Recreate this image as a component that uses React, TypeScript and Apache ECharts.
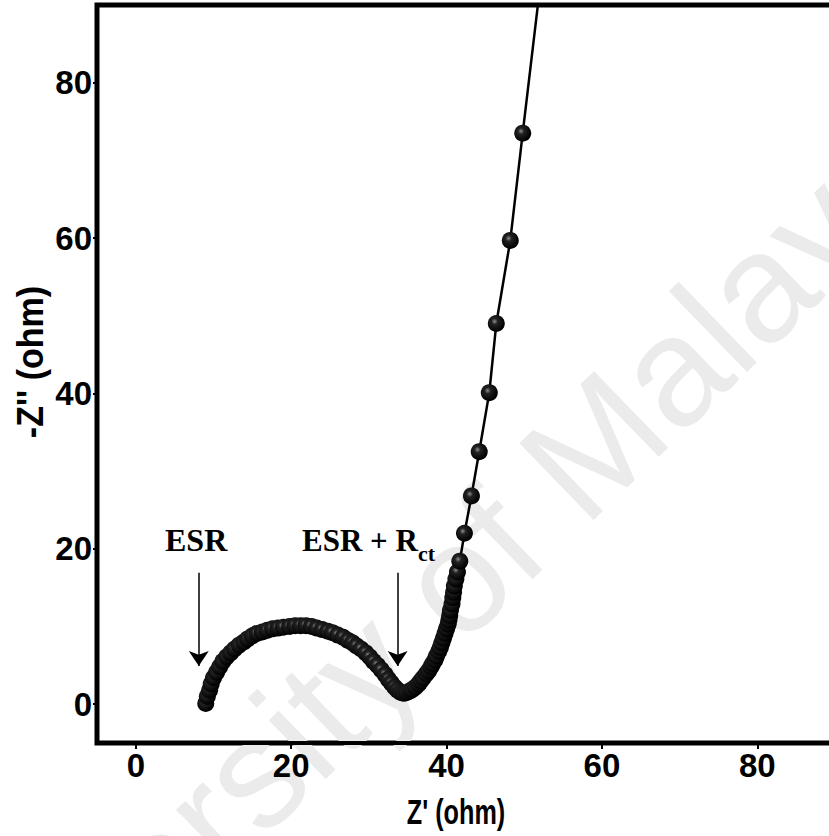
import React, { useEffect, useRef } from "react";
import * as echarts from "echarts";

// Nyquist data: Z' (ohm) and -Z'' (ohm)
const zReal = [
  9.0, 9.2, 9.5, 9.7, 10.0, 10.4, 10.8, 11.2, 11.7, 12.2, 12.7, 13.3, 13.9, 14.4,
  15.0, 15.6, 16.3, 16.9, 17.6, 18.3, 19.0, 19.8, 20.5, 21.2, 21.9, 22.6, 23.3,
  24.0, 24.7, 25.3, 26.0, 26.7, 27.3, 27.9, 28.4, 29.0, 29.6, 30.1, 30.6, 31.1,
  31.6, 32.1, 32.5, 32.9, 33.3, 33.7, 34.1, 34.5, 34.9, 35.3, 35.6, 36.0, 36.4,
  36.7, 37.0, 37.4, 37.7, 38.0, 38.2, 38.5, 38.7, 39.0, 39.2, 39.4, 39.6, 39.8,
  40.0, 40.2, 40.3, 40.4, 40.5, 40.7, 40.8, 40.9, 41.0, 41.2, 41.4, 41.7, 42.3,
  43.2, 44.2, 45.5, 46.4, 48.2, 49.8, 52.7,
];
const zImag = [
  0.1, 1.0, 1.8, 2.6, 3.4, 4.1, 4.8, 5.5, 6.1, 6.6, 7.1, 7.6, 8.0, 8.4, 8.8, 9.1,
  9.3, 9.5, 9.7, 9.8, 9.9, 10.0, 10.1, 10.1, 10.1, 10.0, 9.8, 9.6, 9.4, 9.2, 8.9,
  8.6, 8.2, 7.9, 7.5, 7.1, 6.6, 6.1, 5.5, 5.0, 4.4, 3.8, 3.2, 2.7, 2.2, 1.8, 1.5,
  1.4, 1.5, 1.7, 1.9, 2.2, 2.6, 3.0, 3.4, 3.9, 4.3, 4.8, 5.2, 5.7, 6.2, 6.8, 7.3,
  7.9, 8.5, 9.1, 9.7, 10.3, 10.8, 11.4, 12.1, 12.9, 13.7, 14.4, 15.2, 16.1, 17.0,
  18.4, 22.0, 26.8, 32.5, 40.1, 49.0, 59.7, 73.5, 98.0,
];
const xTicks = [0, 20, 40, 60, 80];
const yTicks = [0, 20, 40, 60, 80];
// arrows: [x, yStart, yEnd]
const esrArrow = [8.1, 16.9, 4.9];
const rctArrow = [33.7, 16.9, 4.9];

const sans = "'Liberation Sans', Arial, sans-serif";
const serif = "'Liberation Serif', 'Times New Roman', serif";

export default function App() {
  const ref = useRef<HTMLDivElement>(null);
  useEffect(() => {
    if (!ref.current) return;
    const chart = echarts.init(ref.current, null, { renderer: "svg" });
    const data = zReal.map((x, i) => [x, zImag[i]]);
    const ball = {
      type: "radial",
      x: 0.4,
      y: 0.38,
      r: 0.6,
      colorStops: [
        { offset: 0, color: "#8c8c8c" },
        { offset: 0.3, color: "#222" },
        { offset: 1, color: "#000" },
      ],
    };
    const tickLabel = {
      fontFamily: sans,
      fontWeight: "bold",
      fontSize: 33,
      color: "#000",
    };
    chart.setOption({
      animation: false,
      backgroundColor: "#fff",
      grid: {
        left: 97,
        top: 5,
        right: 0,
        bottom: 93,
        show: true,
        borderColor: "#000",
        borderWidth: 5,
      },
      xAxis: {
        type: "value",
        min: -5,
        max: 90,
        axisLine: { show: true, onZero: false, lineStyle: { color: "#000", width: 4 } },
        axisTick: { show: true, length: 6, lineStyle: { color: "#000", width: 2 }, customValues: xTicks },
        axisLabel: { ...tickLabel, margin: 6, customValues: xTicks },
        splitLine: { show: false },
      },
      yAxis: {
        type: "value",
        min: -5,
        max: 90,
        axisLine: { show: true, onZero: false, lineStyle: { color: "#000", width: 4 } },
        axisTick: { show: true, length: 4, lineStyle: { color: "#000", width: 2 }, customValues: yTicks },
        axisLabel: { ...tickLabel, margin: 5, customValues: yTicks },
        splitLine: { show: false },
      },
      graphic: [
        {
          type: "text",
          x: 405,
          y: 628,
          rotation: (44 * Math.PI) / 180,
          z: 0,
          silent: true,
          style: {
            text: "University of Malaya",
            fill: "#ebebeb",
            fontFamily: sans,
            fontSize: 155,
            align: "center",
            verticalAlign: "middle",
          },
        },
        {
          type: "text",
          x: 456,
          y: 812,
          scaleX: 0.7,
          z: 100,
          style: {
            text: "Z' (ohm)",
            fill: "#000",
            fontFamily: sans,
            fontWeight: "bold",
            fontSize: 36,
            align: "center",
            verticalAlign: "middle",
          },
        },
        {
          type: "text",
          x: 31,
          y: 362,
          rotation: Math.PI / 2,
          scaleX: 0.92,
          z: 100,
          style: {
            text: "-Z'' (ohm)",
            fill: "#000",
            fontFamily: sans,
            fontWeight: "bold",
            fontSize: 37,
            align: "center",
            verticalAlign: "middle",
          },
        },
        {
          type: "text",
          x: 165,
          y: 556,
          z: 100,
          style: {
            text: "ESR",
            fill: "#000",
            fontFamily: serif,
            fontWeight: "bold",
            fontSize: 32,
            align: "left",
            verticalAlign: "bottom",
          },
        },
        {
          type: "text",
          x: 302,
          y: 556,
          z: 100,
          style: {
            text: "ESR + R",
            fill: "#000",
            fontFamily: serif,
            fontWeight: "bold",
            fontSize: 31,
            align: "left",
            verticalAlign: "bottom",
          },
        },
        {
          type: "text",
          x: 418,
          y: 564,
          z: 100,
          style: {
            text: "ct",
            fill: "#000",
            fontFamily: serif,
            fontWeight: "bold",
            fontSize: 22,
            align: "left",
            verticalAlign: "bottom",
          },
        },
      ],
      series: [
        {
          type: "line",
          data,
          symbol: "circle",
          symbolSize: 17,
          showAllSymbol: true,
          clip: true,
          z: 5,
          itemStyle: { color: ball, borderWidth: 0 },
          lineStyle: { color: "#000", width: 2.5 },
          markLine: {
            silent: true,
            symbol: ["none", "arrow"],
            symbolSize: 15,
            label: { show: false },
            lineStyle: { color: "#000", width: 1.5, type: "solid" },
            data: [
              [
                { coord: [esrArrow[0], esrArrow[1]] },
                { coord: [esrArrow[0], esrArrow[2]] },
              ],
              [
                { coord: [rctArrow[0], rctArrow[1]] },
                { coord: [rctArrow[0], rctArrow[2]] },
              ],
            ],
          },
        },
      ],
    });
    return () => chart.dispose();
  }, []);
  return (
    <div
      style={{
        position: "fixed",
        left: 0,
        top: 0,
        width: 829,
        height: 836,
        overflow: "hidden",
        background: "#fff",
      }}
    >
      <div ref={ref} style={{ width: 835, height: 836 }} />
    </div>
  );
}
